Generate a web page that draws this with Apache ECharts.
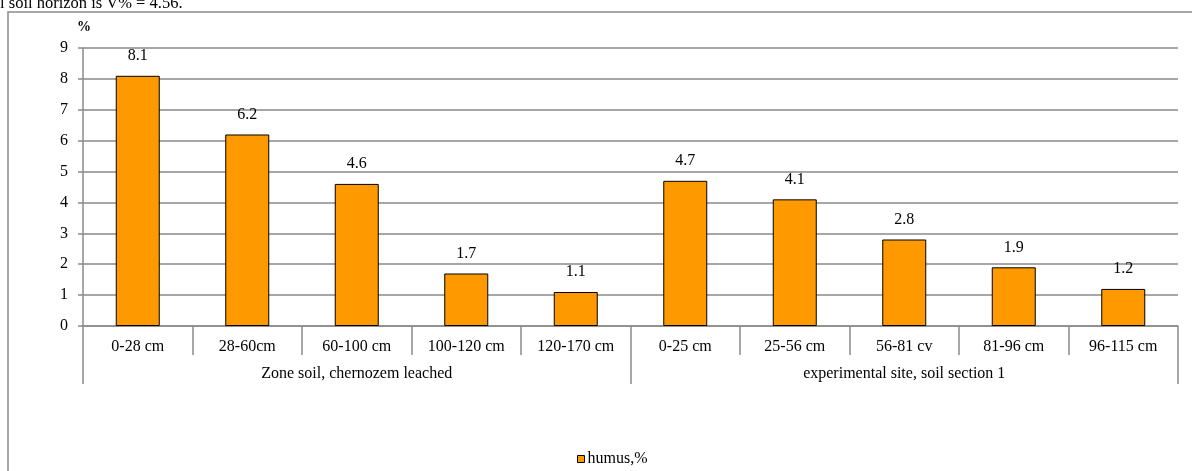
<!DOCTYPE html>
<html>
<head>
<meta charset="utf-8">
<style>
  html, body { margin: 0; padding: 0; background: #fff; }
  #chart { width: 1192px; height: 471px; }
</style>
<script src="https://cdn.jsdelivr.net/npm/echarts@6/dist/echarts.min.js"></script>
</head>
<body>
<div id="chart"></div>
<script>
// Soil horizons (depth ranges) and the two soil profiles they belong to
const horizons = ['0-28 cm', '28-60cm', '60-100 cm', '100-120 cm', '120-170 cm',
                  '0-25 cm', '25-56 cm', '56-81 cv', '81-96 cm', '96-115 cm'];
const profiles = ['Zone soil, chernozem leached', 'experimental site, soil section 1'];
// Humus content per horizon, %
const humus = [8.1, 6.2, 4.6, 1.7, 1.1, 4.7, 4.1, 2.8, 1.9, 1.2];
const seriesName = 'humus,%';
const yTicks = { min: 0, max: 9, interval: 1 };

const serif = '"Liberation Serif", "DejaVu Serif", serif';
const gray = '#8a8a8a';
const fs = 16;

const chart = echarts.init(document.getElementById('chart'), null, { renderer: 'canvas' });

chart.setOption({
  backgroundColor: '#ffffff',
  animation: false,
  textStyle: { fontFamily: serif, color: '#000' },
  graphic: [
    {
      type: 'rect',
      shape: { x: 8, y: 12, width: 1300, height: 600 },
      style: { fill: 'none', stroke: gray, lineWidth: 1.5 },
      silent: true
    },
    {
      type: 'text',
      left: 0,
      top: -5,
      style: {
        text: 'l soil horizon is V% = 4.56.',
        font: '16.5px ' + serif,
        fill: '#000'
      },
      silent: true
    }
  ],
  legend: {
    bottom: -1,
    left: 572,
    itemWidth: 7,
    itemHeight: 7,
    itemGap: 3,
    textStyle: { fontFamily: serif, fontSize: fs, color: '#000', padding: [0, 0, 0, -2] },
    data: [{ name: seriesName, icon: 'rect', itemStyle: { borderColor: '#000', borderWidth: 1 } }]
  },
  grid: { left: 83, right: 14, top: 48, bottom: 145, containLabel: false },
  xAxis: [
    {
      type: 'category',
      data: horizons,
      position: 'bottom',
      boundaryGap: true,
      axisLine: { show: true, lineStyle: { color: gray, width: 1.5 } },
      axisTick: { show: true, interval: 0, length: 29, lineStyle: { color: gray, width: 1.5 } },
      axisLabel: { interval: 0, margin: 13, fontFamily: serif, fontSize: fs, color: '#000' }
    },
    {
      type: 'category',
      data: profiles,
      position: 'bottom',
      offset: 0,
      boundaryGap: true,
      axisLine: { show: false },
      axisTick: { show: true, interval: 0, length: 58, lineStyle: { color: gray, width: 1.5 } },
      axisLabel: { interval: 0, margin: 40, fontFamily: serif, fontSize: fs, color: '#000' }
    }
  ],
  yAxis: {
    type: 'value',
    min: yTicks.min,
    max: yTicks.max,
    interval: yTicks.interval,
    name: '%',
    nameLocation: 'end',
    nameGap: 14,
    nameTextStyle: { fontFamily: serif, fontSize: 14, fontWeight: 'bold', color: '#000', align: 'left', padding: [0, 0, 0, -6] },
    axisLine: { show: true, lineStyle: { color: gray, width: 1.5 } },
    axisTick: { show: true, length: 5, lineStyle: { color: gray, width: 1.5 } },
    axisLabel: { margin: 15, fontFamily: serif, fontSize: fs, color: '#000' },
    splitLine: { show: true, lineStyle: { color: gray, width: 1.5 } }
  },
  series: [
    {
      name: seriesName,
      type: 'bar',
      xAxisIndex: 0,
      data: humus,
      barWidth: 44,
      itemStyle: { color: '#FF9900', borderColor: '#000', borderWidth: 1 },
      label: {
        show: true,
        position: 'top',
        distance: 12,
        fontFamily: serif,
        fontSize: fs,
        color: '#000',
        formatter: p => p.value.toFixed(1)
      }
    }
  ]
});
</script>
</body>
</html>
